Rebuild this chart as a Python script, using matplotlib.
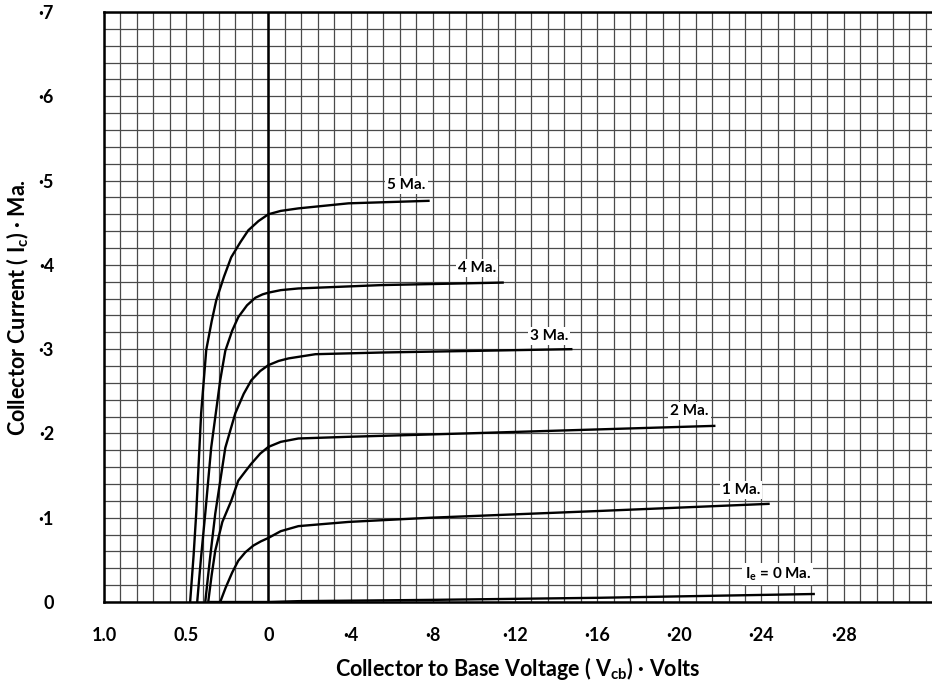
import matplotlib
matplotlib.use('Agg')
import matplotlib.pyplot as plt
from matplotlib.ticker import FixedLocator, FuncFormatter
import numpy as np

# collector-base voltage (V) and collector current (mA, negative = PNP)
v_5ma = [0.476, 0.455, 0.439, 0.409, 0.378, 0.345, 0.317, 0.27, 0.226, 0.17, 0.122, 0.06, 0.0, -0.6, -1.46, -3.9, -7.85]
i_5ma = [0.0, -0.55, -1.05, -2.24, -2.99, -3.33, -3.58, -3.86, -4.09, -4.27, -4.41, -4.52, -4.60, -4.64, -4.67, -4.73, -4.76]

v_4ma = [0.433, 0.41, 0.384, 0.348, 0.293, 0.262, 0.22, 0.183, 0.13, 0.079, 0.035, 0.0, -0.6, -1.46, -5.51, -11.46]
i_4ma = [0.0, -0.52, -1.05, -1.83, -2.63, -2.98, -3.22, -3.38, -3.52, -3.61, -3.65, -3.67, -3.70, -3.72, -3.76, -3.79]

v_3ma = [0.384, 0.355, 0.323, 0.262, 0.201, 0.15, 0.104, 0.05, 0.0, -0.5, -0.98, -2.29, -5.51, -14.8]
i_3ma = [0.0, -0.52, -1.05, -1.83, -2.24, -2.47, -2.63, -2.74, -2.81, -2.86, -2.89, -2.94, -2.96, -3.0]

v_2ma = [0.366, 0.345, 0.323, 0.28, 0.226, 0.183, 0.14, 0.104, 0.05, 0.0, -0.6, -1.46, -3.9, -9.6, -21.76]
i_2ma = [0.0, -0.32, -0.61, -0.95, -1.20, -1.44, -1.55, -1.64, -1.76, -1.84, -1.90, -1.94, -1.96, -2.0, -2.09]

v_1ma = [0.293, 0.26, 0.22, 0.183, 0.14, 0.091, 0.045, 0.0, -0.6, -1.46, -3.9, -7.9, -16.1, -24.4]
i_1ma = [0.0, -0.17, -0.35, -0.49, -0.59, -0.67, -0.72, -0.76, -0.84, -0.90, -0.95, -1.0, -1.08, -1.165]

v_0ma = [0.366, 0.0, -1.46, -7.9, -16.1, -26.6]
i_0ma = [0.0, 0.0, -0.01, -0.025, -0.05, -0.095]

curve_labels = ['5 Ma.', '4 Ma.', '3 Ma.', '2 Ma.', '1 Ma.', r'I$_{\mathregular{e}}$ = 0 Ma.']

x_ticks = [1.0, 0.5, 0, -4, -8, -12, -16, -20, -24, -28]
y_ticks = [0, -1, -2, -3, -4, -5, -6, -7]

plt.rcParams['font.family'] = ['Lato', 'DejaVu Sans']
plt.rcParams['font.weight'] = 'bold'
plt.rcParams['mathtext.fontset'] = 'custom'
plt.rcParams['mathtext.rm'] = 'Lato:bold'
plt.rcParams['mathtext.it'] = 'Lato:bold'

DOT = '\u2219'  # the little raised minus used on the original sheet


# forward-bias side is stretched: 0.5 V per division left of zero, 4 V per division right of it
def fwd(v):
    v = np.asarray(v, dtype=float)
    return np.where(v >= 0, v / 0.5, v / 4.0)


def inv(u):
    u = np.asarray(u, dtype=float)
    return np.where(u >= 0, u * 0.5, u * 4.0)


def fmt_x(v, pos):
    if v > 0:
        return '%.1f' % v
    if v == 0:
        return '0'
    return DOT + '%d' % abs(v)


def fmt_y(v, pos):
    if v == 0:
        return '0'
    return DOT + '%d' % abs(v)


fig = plt.figure(figsize=(9.32, 6.88), dpi=100)
ax = fig.add_axes([104 / 932, 1 - 602 / 688, 1 - 104 / 932, 590 / 688])
ax.set_xscale('function', functions=(fwd, inv))
ax.set_xlim(1.0, -32.3)
ax.set_ylim(0, -7.0)

ax.xaxis.set_major_locator(FixedLocator(x_ticks))
ax.xaxis.set_major_formatter(FuncFormatter(fmt_x))
ax.yaxis.set_major_locator(FixedLocator(y_ticks))
ax.yaxis.set_major_formatter(FuncFormatter(fmt_y))

minor_x = list(np.arange(1.0, 0.0, -0.1)) + list(-np.arange(0.0, 32.5, 0.8))
ax.xaxis.set_minor_locator(FixedLocator(minor_x))
ax.yaxis.set_minor_locator(FixedLocator(-np.arange(0, 7.01, 0.2)))
ax.grid(which='both', color='#4a4a4a', lw=0.9)
ax.tick_params(which='both', length=0)
ax.tick_params(axis='x', pad=18, labelsize=13)
ax.tick_params(axis='y', pad=36, labelsize=13)
ax.axvline(0, color='black', lw=1.8)

for sp in ['left', 'bottom', 'top']:
    ax.spines[sp].set_linewidth(1.8)
ax.spines['right'].set_visible(False)

curves = [(v_5ma, i_5ma), (v_4ma, i_4ma), (v_3ma, i_3ma),
          (v_2ma, i_2ma), (v_1ma, i_1ma), (v_0ma, i_0ma)]
for xs, ys in curves:
    ax.plot(xs, ys, color='black', lw=1.7, solid_capstyle='butt', solid_joinstyle='round')

label_pos = [(-6.73, -4.95), (-10.15, -3.96), (-13.66, -3.16),
             (-20.5, -2.27), (-23.0, -1.33), (-24.8, -0.33)]
for txt, (x, y) in zip(curve_labels, label_pos):
    ax.text(x, y, txt, ha='center', va='center', fontsize=11, fontweight='bold',
            bbox=dict(facecolor='white', edgecolor='none', pad=1.5))

ax.set_xlabel('Collector to Base Voltage ( V$_{\\mathregular{cb}}$) ' + DOT + ' Volts',
              fontsize=15.5, fontweight='bold')
ax.set_ylabel('Collector Current ( I$_{\\mathregular{c}}$) ' + DOT + ' Ma.',
              fontsize=15.5, fontweight='bold')
ax.xaxis.set_label_coords(0.5, -0.09)
ax.yaxis.set_label_coords(-0.088, 0.5)

fig.canvas.draw()
plt.setp(ax.get_xticklabels() + ax.get_yticklabels(), fontweight='bold')

fig.savefig('out.png', dpi=100)
